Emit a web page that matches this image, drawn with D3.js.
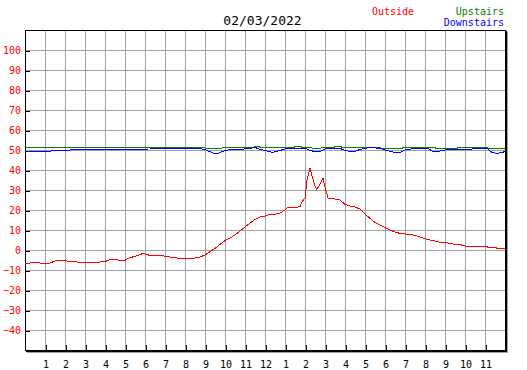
<!DOCTYPE html>
<html><head><meta charset="utf-8">
<script src="https://cdn.jsdelivr.net/npm/d3@7"></script>
<style>
html,body{margin:0;padding:0;background:#fff;}
svg{display:block;}
text{font-family:"DejaVu Sans Mono",monospace;}
</style></head>
<body>
<script>
const title = "02/03/2022";
const seriesNames = ["Outside", "Upstairs", "Downstairs"];
const seriesColors = ["#ff0000", "#008000", "#0000ff"];
const yTickValues = [100, 90, 80, 70, 60, 50, 40, 30, 20, 10, 0, -10, -20, -30, -40];
const xTickHours = d3.range(1, 24);
const xTickLabels = ["1","2","3","4","5","6","7","8","9","10","11","12","1","2","3","4","5","6","7","8","9","10","11"];

// hours since midnight
const outsideTime = [0,0.25,0.5,0.75,1,1.25,1.5,1.75,2,2.25,2.5,2.75,3,3.25,3.5,3.75,4,4.25,4.5,4.75,5,5.25,5.5,5.75,5.9,6.25,6.75,7.25,7.75,8.25,8.5,8.75,9,9.25,9.5,9.75,10,10.25,10.5,10.75,11,11.25,11.5,11.75,12,12.25,12.5,12.75,13,13.15,13.4,13.75,13.85,14,14.1,14.25,14.35,14.5,14.6,14.75,14.9,15,15.15,15.4,15.75,16,16.25,16.5,16.75,17,17.25,17.5,17.75,18,18.25,18.5,18.75,19,19.25,19.5,19.75,20,20.25,20.5,20.75,21.25,21.5,21.75,22,22.75,23,23.25,23.5,23.75,24];
const outsideTemp = [-7,-6.5,-6,-6.5,-7,-6.5,-5.5,-5,-5.3,-5.8,-5.8,-6.3,-6.5,-6.2,-6,-6,-5.8,-4.8,-4.5,-5.3,-5.2,-3.7,-3.3,-2.2,-1.8,-2.7,-2.7,-3.5,-4.2,-4,-4,-3.5,-2.5,-0.8,0.8,2.8,4.7,6,7.5,9.5,11.5,13.5,15.3,16.5,17,17.8,17.8,18.5,20,21.3,21,21.7,24,26,35,40.8,37,32,30.3,33,35.8,31.5,26,25.7,25,22.8,22,21.5,20.5,18,15.8,13.8,12.5,11.3,10,9,8.3,8,7.7,7.3,6.5,5.6,5,4.5,3.8,3.4,2.8,2.7,2,2,1.8,1.2,1.2,0.5,1];

const upTime = [0,2,4,6,8.9,9.05,9.75,10,11.45,11.5,11.7,11.75,13.45,13.5,13.8,13.85,14.25,14.4,15.45,15.5,15.8,15.85,17.75,17.8,18.85,18.9,20.5,20.55,21.6,21.65,23.1,23.15,24];
const upTemp = [51,51.2,51.3,51.3,51.3,50.8,50.8,51.3,51.3,52,52,51.3,51.3,52,52,51.3,51.3,50.8,51.3,52,52,51.3,51.3,50.8,50.8,51.3,51.3,50.8,50.8,51.3,51.3,50.8,50.8];

const downTime = [0,1,1.75,2.75,3.75,6.25,7.75,8.75,9.1,9.4,9.65,9.85,10.15,10.75,11.25,11.5,11.75,12.1,12.35,12.65,13,13.75,14,14.25,14.5,14.75,15,15.75,16,16.25,16.5,16.75,17.25,17.75,18.1,18.5,18.75,19,19.5,20.15,20.4,20.75,21,21.5,22.25,22.5,23.1,23.35,23.6,23.85,24];
const downTemp = [49.2,49.3,49.8,50.2,50.3,50.5,50.8,50.8,49.8,48.5,48.3,49.2,50,50.3,50.8,51.3,50.3,49.5,48.8,49.5,50.5,50.8,51,49.8,49.2,49.2,50.5,50.8,49.8,49.3,49.3,50.3,51.3,50.8,49.7,48.8,48.8,50,50.8,50.8,49.2,49.5,50,50.3,50.3,50.8,50.8,48.8,48.3,48.8,49.2];

const W = 527, H = 370;
const L = 25, R = 505, T = 30, B = 350;
const svg = d3.select("body").append("svg").attr("width", W).attr("height", H);

const x = d3.scaleLinear().domain([0, 24]).range([L, R]);
const y = d3.scaleLinear().domain([-50, 110]).range([B, T]);

// grid
const grid = svg.append("g").attr("shape-rendering", "crispEdges");
grid.selectAll("line.v").data(xTickHours).join("line")
  .attr("x1", d => Math.round(x(d)) + 0.5).attr("x2", d => Math.round(x(d)) + 0.5)
  .attr("y1", T).attr("y2", B).attr("stroke", "#a0a0a0").attr("stroke-width", 1);
grid.selectAll("line.h").data(yTickValues).join("line")
  .attr("y1", d => Math.round(y(d)) + 0.5).attr("y2", d => Math.round(y(d)) + 0.5)
  .attr("x1", L).attr("x2", R).attr("stroke", "#a0a0a0").attr("stroke-width", 1);

// shadow and frame
const frame = svg.append("g").attr("shape-rendering", "crispEdges");
frame.append("line").attr("x1", R + 2.5).attr("x2", R + 2.5).attr("y1", T + 2).attr("y2", B + 3).attr("stroke", "#a0a0a0");
frame.append("line").attr("y1", B + 2.5).attr("y2", B + 2.5).attr("x1", L + 2).attr("x2", R + 3).attr("stroke", "#a0a0a0");
frame.append("line").attr("x1", R + 1.5).attr("x2", R + 1.5).attr("y1", T + 1).attr("y2", B + 2).attr("stroke", "#000");
frame.append("line").attr("y1", B + 1.5).attr("y2", B + 1.5).attr("x1", L + 1).attr("x2", R + 2).attr("stroke", "#000");
frame.append("rect").attr("x", L + 0.5).attr("y", T + 0.5).attr("width", R - L).attr("height", B - T)
  .attr("fill", "none").attr("stroke", "#000");

// axes
const yAxis = d3.axisLeft(y).tickValues(yTickValues).tickSize(-5).tickPadding(4).tickFormat(d3.format("d"));
const gy = svg.append("g").attr("transform", `translate(${L},0.5)`).call(yAxis);
gy.select(".domain").remove();
gy.selectAll(".tick line").attr("stroke", "#000").attr("shape-rendering", "crispEdges");
gy.selectAll(".tick text").attr("fill", "#ff0000").attr("font-size", 10).attr("font-family", "DejaVu Sans Mono");

const xAxis = d3.axisBottom(x).tickValues(xTickHours).tickSize(-5).tickPadding(11)
  .tickFormat((d, i) => xTickLabels[i]);
const gx = svg.append("g").attr("transform", `translate(0.5,${B})`).call(xAxis);
gx.select(".domain").remove();
gx.selectAll(".tick line").attr("stroke", "#000").attr("shape-rendering", "crispEdges");
gx.selectAll(".tick text").attr("fill", "#000").attr("font-size", 10).attr("font-family", "DejaVu Sans Mono");

// lines
const line = d3.line().x(d => x(d[0])).y(d => y(d[1]));
const series = [
  {t: upTime, v: upTemp, c: seriesColors[1]},
  {t: downTime, v: downTemp, c: seriesColors[2]},
  {t: outsideTime, v: outsideTemp, c: seriesColors[0]}
];
series.forEach(s => {
  svg.append("path").datum(s.t.map((t, i) => [t, s.v[i]]))
    .attr("d", line).attr("fill", "none").attr("stroke", s.c).attr("stroke-width", 1)
    .attr("shape-rendering", "crispEdges");
});

// title & legend
svg.append("text").attr("x", 262.5).attr("y", 25).attr("text-anchor", "middle")
  .attr("font-size", 13).attr("fill", "#000").text(title);
svg.append("text").attr("x", 372).attr("y", 15).attr("font-size", 10).attr("fill", seriesColors[0]).text(seriesNames[0]);
svg.append("text").attr("x", 504).attr("y", 15).attr("text-anchor", "end").attr("font-size", 10).attr("fill", seriesColors[1]).text(seriesNames[1]);
svg.append("text").attr("x", 504).attr("y", 26).attr("text-anchor", "end").attr("font-size", 10).attr("fill", seriesColors[2]).text(seriesNames[2]);
</script>
</body></html>
